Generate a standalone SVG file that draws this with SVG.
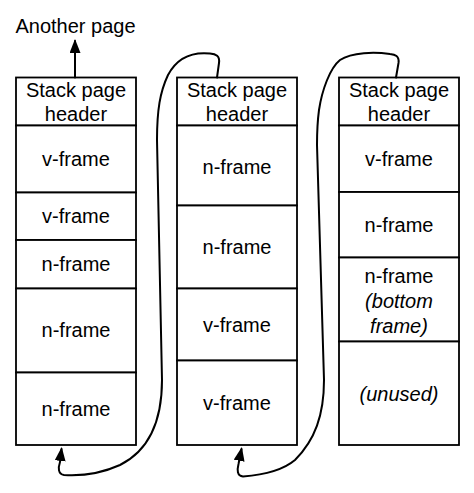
<svg xmlns="http://www.w3.org/2000/svg" width="474" height="493" viewBox="0 0 474 493">
<style>
  .box { fill: #ffffff; stroke: #000000; stroke-width: 1.8; }
  .t { font-family: "Liberation Sans", Arial, Helvetica, sans-serif; font-size: 20px; fill: #000000; text-anchor: middle; }
  .i { font-style: italic; }
  .conn { fill: none; stroke: #000000; stroke-width: 2; stroke-linejoin: round; stroke-linecap: round; }
</style>
<defs>
  <marker id="arr" viewBox="0 0 14 11" refX="12" refY="5.5" markerWidth="14" markerHeight="11" markerUnits="userSpaceOnUse" orient="auto">
    <path d="M0,0 L14,5.5 L0,11 z" fill="#000000"/>
  </marker>
</defs>
<rect width="474" height="493" fill="#ffffff"/>

<g id="another-page">
  <text class="t" x="75.5" y="33">Another page</text>
</g>

<g id="page1">
  <rect class="box" x="16" y="77.5" width="120" height="48"/>
  <text class="t" x="76" y="97">Stack page</text>
  <text class="t" x="76" y="121">header</text>
  <rect class="box" x="16" y="125.5" width="120" height="67"/>
  <text class="t" x="76" y="166">v-frame</text>
  <rect class="box" x="16" y="192.5" width="120" height="47.5"/>
  <text class="t" x="76" y="222.5">v-frame</text>
  <rect class="box" x="16" y="240" width="120" height="48.5"/>
  <text class="t" x="76" y="271">n-frame</text>
  <rect class="box" x="16" y="288.5" width="120" height="84"/>
  <text class="t" x="76" y="337">n-frame</text>
  <rect class="box" x="16" y="372.5" width="120" height="72.5"/>
  <text class="t" x="76" y="416">n-frame</text>
</g>

<g id="page2">
  <rect class="box" x="177" y="77.5" width="120" height="48"/>
  <text class="t" x="237" y="97">Stack page</text>
  <text class="t" x="237" y="121">header</text>
  <rect class="box" x="177" y="125.5" width="120" height="80"/>
  <text class="t" x="237" y="174">n-frame</text>
  <rect class="box" x="177" y="205.5" width="120" height="83"/>
  <text class="t" x="237" y="254">n-frame</text>
  <rect class="box" x="177" y="288.5" width="120" height="72"/>
  <text class="t" x="237" y="332">v-frame</text>
  <rect class="box" x="177" y="360.5" width="120" height="84.5"/>
  <text class="t" x="237" y="410">v-frame</text>
</g>

<g id="page3">
  <rect class="box" x="339" y="77.5" width="120" height="48"/>
  <text class="t" x="399" y="97">Stack page</text>
  <text class="t" x="399" y="121">header</text>
  <rect class="box" x="339" y="125.5" width="120" height="66.5"/>
  <text class="t" x="399" y="166">v-frame</text>
  <rect class="box" x="339" y="192" width="120" height="65.5"/>
  <text class="t" x="399" y="232">n-frame</text>
  <rect class="box" x="339" y="257.5" width="120" height="84"/>
  <text class="t" x="399" y="283">n-frame</text>
  <text class="t i" x="399" y="308">(bottom</text>
  <text class="t i" x="399" y="333">frame)</text>
  <rect class="box" x="339" y="341.5" width="120" height="103.5"/>
  <text class="t i" x="399" y="401">(unused)</text>
</g>

<g id="connectors">
  <path class="conn" d="M 75 77.5 L 75 41" marker-end="url(#arr)"/>
  <path class="conn" d="M 217 77.5 L 219 63 C 220 56, 216 54, 210 53.5 C 195 52, 178 56, 168 75 C 160 92, 157 110, 157 140 L 162 380 C 162 420, 150 450, 120 465 C 100 474, 80 476, 64 475 C 58 474, 58 468, 60 462 L 61.5 449" marker-end="url(#arr)"/>
  <path class="conn" d="M 396 77.5 L 398.5 63 C 399.5 56, 395 54.5, 390 54 C 375 52, 352 52, 340 60 C 330 68, 322 90, 319 110 C 317 125, 317 135, 317 145 L 324 380 C 324 415, 315 440, 295 460 C 282 471, 262 475, 243 476.5 C 237 476, 237 470, 238.5 464 L 241.5 449" marker-end="url(#arr)"/>
</g>
</svg>
